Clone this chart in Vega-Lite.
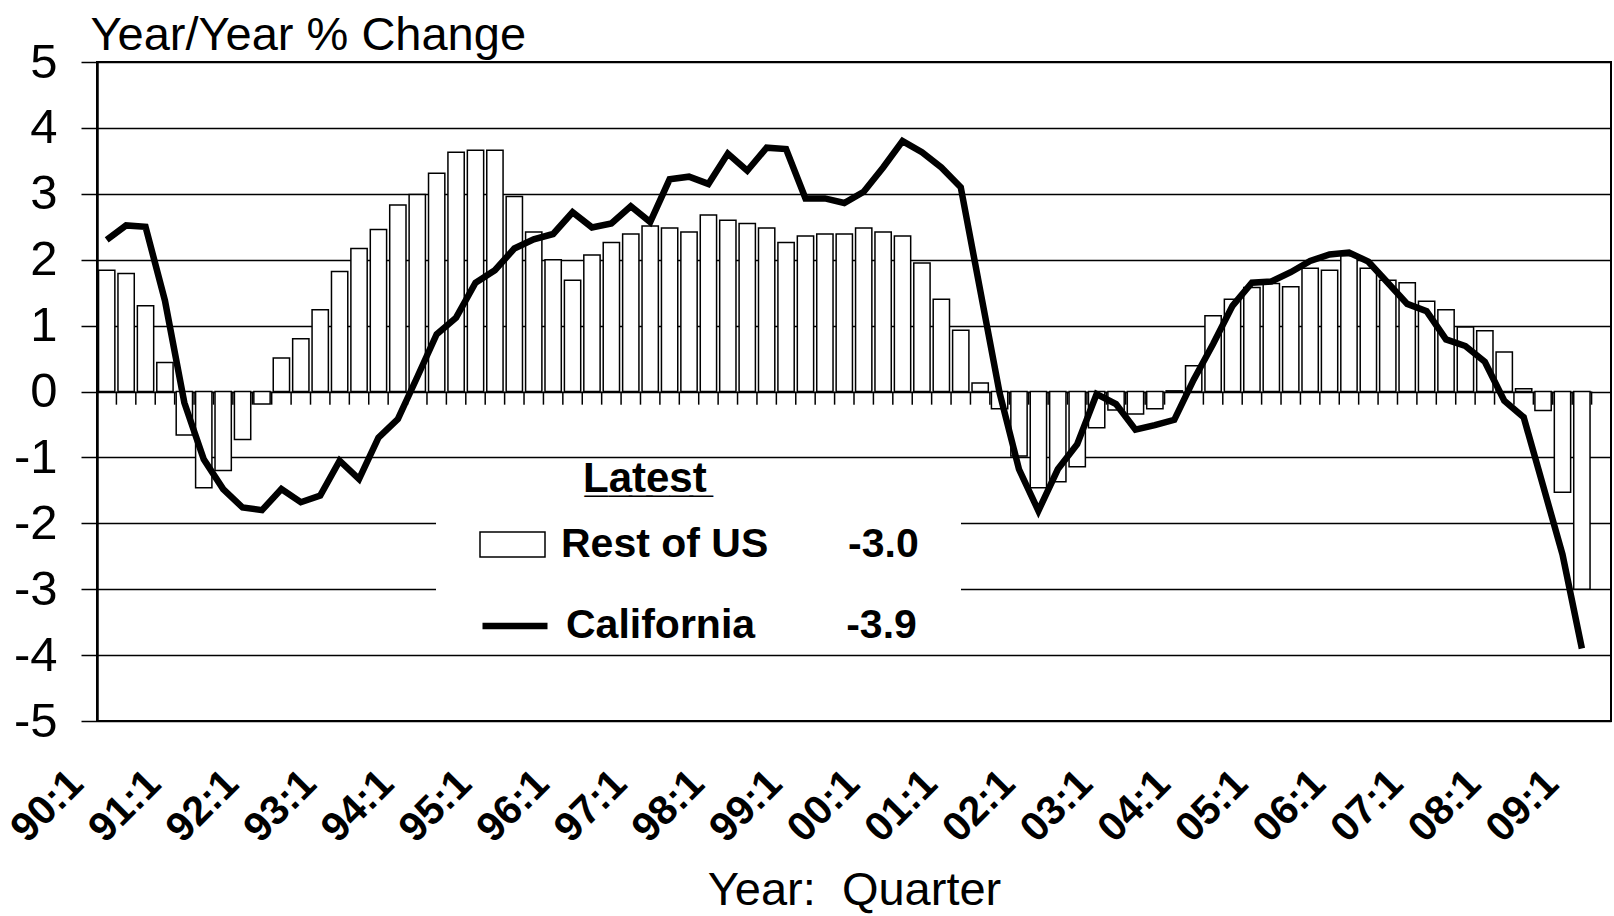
{
  "$schema": "https://vega.github.io/schema/vega-lite/v6.json",
  "width": 1514,
  "height": 659,
  "autosize": {"type": "none"},
  "padding": {"left": 97, "top": 62, "right": 3, "bottom": 195},
  "background": "white",
  "config": {
    "font": "Liberation Sans",
    "view": {"stroke": "black", "strokeWidth": 2},
    "axis": {"gridColor": "black", "gridWidth": 1.5, "gridOpacity": 1, "domainColor": "black", "tickColor": "black", "labelColor": "black", "titleColor": "black"}
  },
  "data": {
    "values": [
      {"q": "90:1", "us": 1.84, "ca": 2.30},
      {"q": "90:2", "us": 1.79, "ca": 2.52},
      {"q": "90:3", "us": 1.30, "ca": 2.50},
      {"q": "90:4", "us": 0.44, "ca": 1.38},
      {"q": "91:1", "us": -0.66, "ca": -0.17},
      {"q": "91:2", "us": -1.46, "ca": -1.03},
      {"q": "91:3", "us": -1.20, "ca": -1.48},
      {"q": "91:4", "us": -0.73, "ca": -1.76},
      {"q": "92:1", "us": -0.19, "ca": -1.80},
      {"q": "92:2", "us": 0.51, "ca": -1.48},
      {"q": "92:3", "us": 0.80, "ca": -1.68},
      {"q": "92:4", "us": 1.24, "ca": -1.58},
      {"q": "93:1", "us": 1.82, "ca": -1.05},
      {"q": "93:2", "us": 2.17, "ca": -1.33},
      {"q": "93:3", "us": 2.46, "ca": -0.70},
      {"q": "93:4", "us": 2.83, "ca": -0.42},
      {"q": "94:1", "us": 2.99, "ca": 0.22},
      {"q": "94:2", "us": 3.31, "ca": 0.87},
      {"q": "94:3", "us": 3.63, "ca": 1.12},
      {"q": "94:4", "us": 3.66, "ca": 1.65},
      {"q": "95:1", "us": 3.66, "ca": 1.84},
      {"q": "95:2", "us": 2.96, "ca": 2.17},
      {"q": "95:3", "us": 2.42, "ca": 2.31},
      {"q": "95:4", "us": 2.00, "ca": 2.39},
      {"q": "96:1", "us": 1.69, "ca": 2.72},
      {"q": "96:2", "us": 2.07, "ca": 2.49},
      {"q": "96:3", "us": 2.26, "ca": 2.55},
      {"q": "96:4", "us": 2.39, "ca": 2.81},
      {"q": "97:1", "us": 2.51, "ca": 2.57},
      {"q": "97:2", "us": 2.48, "ca": 3.22},
      {"q": "97:3", "us": 2.42, "ca": 3.26},
      {"q": "97:4", "us": 2.68, "ca": 3.15},
      {"q": "98:1", "us": 2.60, "ca": 3.61},
      {"q": "98:2", "us": 2.55, "ca": 3.35},
      {"q": "98:3", "us": 2.48, "ca": 3.70},
      {"q": "98:4", "us": 2.26, "ca": 3.68},
      {"q": "99:1", "us": 2.36, "ca": 2.93},
      {"q": "99:2", "us": 2.39, "ca": 2.93},
      {"q": "99:3", "us": 2.39, "ca": 2.86},
      {"q": "99:4", "us": 2.48, "ca": 3.03},
      {"q": "00:1", "us": 2.42, "ca": 3.40},
      {"q": "00:2", "us": 2.36, "ca": 3.80},
      {"q": "00:3", "us": 1.95, "ca": 3.63},
      {"q": "00:4", "us": 1.40, "ca": 3.40},
      {"q": "01:1", "us": 0.93, "ca": 3.10},
      {"q": "01:2", "us": 0.13, "ca": 1.54},
      {"q": "01:3", "us": -0.26, "ca": -0.02},
      {"q": "01:4", "us": -0.98, "ca": -1.18},
      {"q": "02:1", "us": -1.46, "ca": -1.81},
      {"q": "02:2", "us": -1.37, "ca": -1.18},
      {"q": "02:3", "us": -1.14, "ca": -0.80},
      {"q": "02:4", "us": -0.55, "ca": -0.04},
      {"q": "03:1", "us": -0.28, "ca": -0.19},
      {"q": "03:2", "us": -0.34, "ca": -0.58},
      {"q": "03:3", "us": -0.26, "ca": -0.51},
      {"q": "03:4", "us": 0.01, "ca": -0.43},
      {"q": "04:1", "us": 0.39, "ca": 0.18},
      {"q": "04:2", "us": 1.15, "ca": 0.72},
      {"q": "04:3", "us": 1.40, "ca": 1.30},
      {"q": "04:4", "us": 1.58, "ca": 1.65},
      {"q": "05:1", "us": 1.64, "ca": 1.67},
      {"q": "05:2", "us": 1.59, "ca": 1.81},
      {"q": "05:3", "us": 1.87, "ca": 1.98},
      {"q": "05:4", "us": 1.84, "ca": 2.08},
      {"q": "06:1", "us": 2.06, "ca": 2.11},
      {"q": "06:2", "us": 1.87, "ca": 1.97},
      {"q": "06:3", "us": 1.69, "ca": 1.65},
      {"q": "06:4", "us": 1.65, "ca": 1.33},
      {"q": "07:1", "us": 1.37, "ca": 1.22},
      {"q": "07:2", "us": 1.24, "ca": 0.79},
      {"q": "07:3", "us": 0.98, "ca": 0.69},
      {"q": "07:4", "us": 0.92, "ca": 0.45},
      {"q": "08:1", "us": 0.60, "ca": -0.14},
      {"q": "08:2", "us": 0.04, "ca": -0.39},
      {"q": "08:3", "us": -0.29, "ca": -1.43},
      {"q": "08:4", "us": -1.53, "ca": -2.47},
      {"q": "09:1", "us": -3.0, "ca": -3.9},
      {"q": "09:2", "us": null, "ca": null}
    ]
  },
  "layer": [
    {
      "mark": {"type": "bar", "width": {"band": 0.84}, "fill": "white", "stroke": "black", "strokeWidth": 1.5},
      "encoding": {
        "x": {
          "field": "q",
          "type": "ordinal",
          "sort": null,
          "scale": {
            "domain": ["90:1","90:2","90:3","90:4","91:1","91:2","91:3","91:4","92:1","92:2","92:3","92:4","93:1","93:2","93:3","93:4","94:1","94:2","94:3","94:4","95:1","95:2","95:3","95:4","96:1","96:2","96:3","96:4","97:1","97:2","97:3","97:4","98:1","98:2","98:3","98:4","99:1","99:2","99:3","99:4","00:1","00:2","00:3","00:4","01:1","01:2","01:3","01:4","02:1","02:2","02:3","02:4","03:1","03:2","03:3","03:4","04:1","04:2","04:3","04:4","05:1","05:2","05:3","05:4","06:1","06:2","06:3","06:4","07:1","07:2","07:3","07:4","08:1","08:2","08:3","08:4","09:1","09:2"],
            "paddingInner": 0,
            "paddingOuter": 0
          },
          "axis": {
            "title": "Year:\u00a0 Quarter",
            "values": ["90:1","91:1","92:1","93:1","94:1","95:1","96:1","97:1","98:1","99:1","00:1","01:1","02:1","03:1","04:1","05:1","06:1","07:1","08:1","09:1"],
            "labelAngle": -45,
            "labelAlign": "right",
            "labelBaseline": "top",
            "labelFontSize": 41,
            "labelFontWeight": "bold",
            "labelPadding": 42,
            "labelOffset": -44,
            "labelOverlap": false,
            "domain": false,
            "ticks": false,
            "tickSize": 0,
            "grid": false,
            "titleFontSize": 47,
            "titleFontWeight": "normal",
            "titleBaseline": "alphabetic",
            "titleY": 183
          }
        },
        "y": {
          "field": "us",
          "type": "quantitative",
          "scale": {"domain": [-5, 5], "nice": false, "zero": false},
          "axis": {
            "title": "Year/Year % Change",
            "values": [-5, -4, -3, -2, -1, 0, 1, 2, 3, 4, 5],
            "labelExpr": "'' + datum.value",
            "labelFontSize": 49,
            "labelPadding": 24,
            "tickSize": 16,
            "tickWidth": 1.5,
            "domainWidth": 2.5,
            "grid": true,
            "titleAngle": 0,
            "titleAlign": "left",
            "titleBaseline": "alphabetic",
            "titleX": -7,
            "titleY": -13,
            "titleFontSize": 47,
            "titleFontWeight": "normal"
          }
        },
        "fill": {
          "datum": "Rest of US",
          "scale": {"domain": ["Rest of US"], "range": ["white"]},
          "legend": {
            "orient": "none",
            "legendX": 382,
            "legendY": 397,
            "padding": 0,
            "title": "L\u0332a\u0332t\u0332e\u0332s\u0332t\u0332",
            "titleFontSize": 42,
            "titleFontWeight": "bold",
            "titleColor": "black",
            "titlePadding": 10,
            "titleLimit": 0,
            "symbolType": "M-1,-0.385H1V0.385H-1Z",
            "symbolSize": 4225,
            "symbolStrokeColor": "black",
            "symbolStrokeWidth": 1.5,
            "symbolFillColor": "white",
            "labelFontSize": 41,
            "labelFontWeight": "bold",
            "labelColor": "black",
            "labelOffset": 15,
            "labelLimit": 0,
            "labelExpr": "'Rest of US\u00a0\u00a0\u00a0\u00a0\u00a0\u00a0\u00a0-3.0'",
            "encode": {"title": {"update": {"dx": {"value": 104}}}}
          }
        }
      }
    },
    {
      "mark": {"type": "rect", "fill": "white"},
      "encoding": {
        "x": {"datum": "94:2", "type": "ordinal"},
        "x2": {"datum": "01:1"},
        "y": {"datum": -1.05, "type": "quantitative"},
        "y2": {"datum": -3.82}
      }
    },
    {
      "mark": {"type": "rule", "stroke": "black", "strokeWidth": 1.5},
      "encoding": {
        "x": {"field": "q", "type": "ordinal", "bandPosition": 0},
        "y": {"datum": 0, "type": "quantitative"},
        "y2": {"datum": -0.2}
      }
    },
    {
      "mark": {"type": "line", "strokeWidth": 6.5},
      "encoding": {
        "x": {"field": "q", "type": "ordinal", "sort": null},
        "y": {"field": "ca", "type": "quantitative"},
        "stroke": {
          "datum": "California",
          "scale": {"domain": ["California"], "range": ["black"]},
          "legend": {
            "orient": "none",
            "legendX": 382,
            "legendY": 528,
            "padding": 0,
            "title": null,
            "symbolType": "stroke",
            "symbolSize": 4225,
            "symbolStrokeWidth": 6.5,
            "symbolStrokeColor": "black",
            "labelFontSize": 41,
            "labelFontWeight": "bold",
            "labelColor": "black",
            "labelOffset": 15,
            "labelLimit": 0,
            "labelExpr": "'California\u00a0\u00a0\u00a0\u00a0\u00a0\u00a0\u00a0\u00a0-3.9'"
          }
        }
      }
    }
  ]
}
